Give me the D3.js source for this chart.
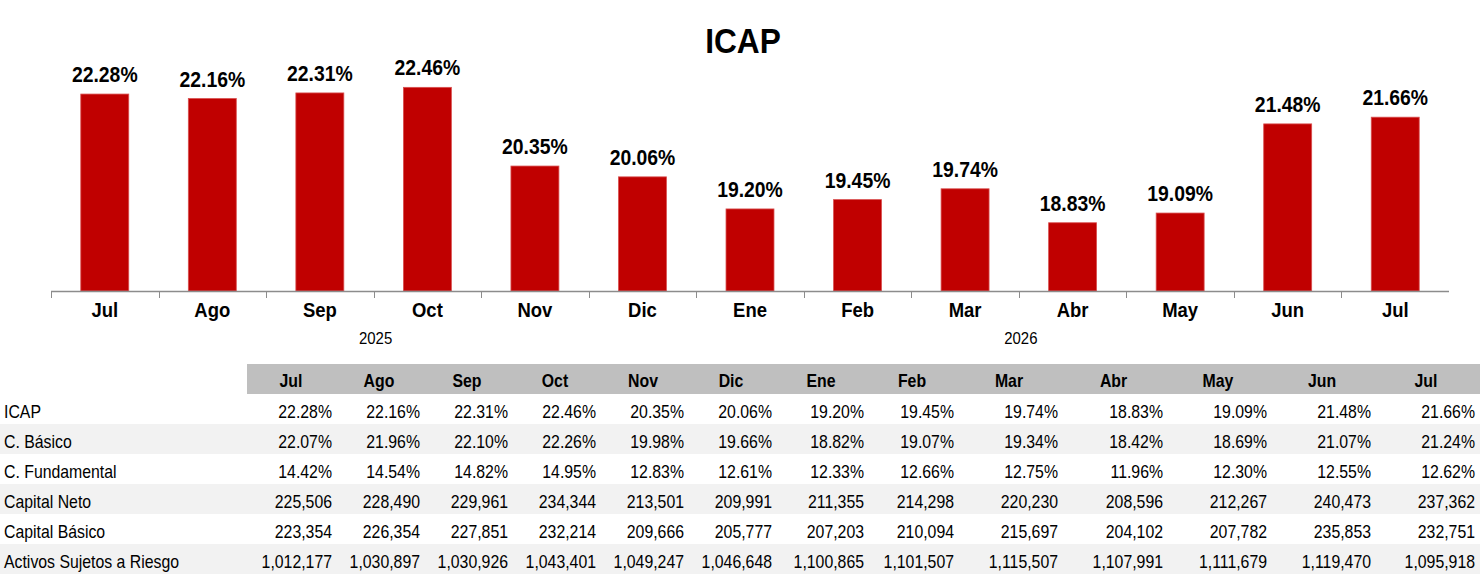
<!DOCTYPE html>
<html>
<head>
<meta charset="utf-8">
<script src="https://cdn.jsdelivr.net/npm/d3@7"></script>
<style>
  body { margin: 0; background: #fff; }
  text { font-family: "Liberation Sans", Arial, sans-serif; }
</style>
</head>
<body>
<div id="chart"></div>
<script>
// data
var months = ["Jul", "Ago", "Sep", "Oct", "Nov", "Dic", "Ene", "Feb", "Mar", "Abr", "May", "Jun", "Jul"];
var icap = [22.28, 22.16, 22.31, 22.46, 20.35, 20.06, 19.20, 19.45, 19.74, 18.83, 19.09, 21.48, 21.66];
var cBasico = [22.07, 21.96, 22.10, 22.26, 19.98, 19.66, 18.82, 19.07, 19.34, 18.42, 18.69, 21.07, 21.24];
var cFundamental = [14.42, 14.54, 14.82, 14.95, 12.83, 12.61, 12.33, 12.66, 12.75, 11.96, 12.30, 12.55, 12.62];
var capitalNeto = [225506, 228490, 229961, 234344, 213501, 209991, 211355, 214298, 220230, 208596, 212267, 240473, 237362];
var capitalBasico = [223354, 226354, 227851, 232214, 209666, 205777, 207203, 210094, 215697, 204102, 207782, 235853, 232751];
var activos = [1012177, 1030897, 1030926, 1043401, 1049247, 1046648, 1100865, 1101507, 1115507, 1107991, 1111679, 1119470, 1095918];
var years = ["2025", "2026"];
var yearBoundary = [3, 9]; // year label sits on the tick after this many months

var rowLabels = ["ICAP", "C. Básico", "C. Fundamental", "Capital Neto", "Capital Básico", "Activos Sujetos a Riesgo"];
var rowValues = [icap, cBasico, cFundamental, capitalNeto, capitalBasico, activos];
var rowIsPct = [true, true, true, false, false, false];

// layout
var width = 1480, height = 576;
var sx = 0.88; // text is a bit narrow in the picture
var colWidths = [88, 88, 88, 88, 88, 88, 92, 90, 104, 105, 104, 104, 104];
var tableLeft = 247, headerTop = 364, rowH = 30;

var svg = d3.select("#chart").append("svg")
    .attr("width", width)
    .attr("height", height);

function addText(g, x, y, str, size, weight, anchor) {
    return g.append("text")
        .attr("transform", "translate(" + x + "," + y + ") scale(" + sx + ",1)")
        .attr("text-anchor", anchor)
        .style("font-size", size + "px")
        .style("font-weight", weight)
        .attr("fill", "#000")
        .text(str);
}

// title
addText(svg, 743, 53, "ICAP", 36, "bold", "middle");

var x = d3.scaleBand()
    .domain(d3.range(months.length))
    .range([51, 1449])
    .paddingInner(0.554)
    .paddingOuter(0.277);

var y = d3.scaleLinear()
    .domain([17, 24])
    .range([291, 291 - 7 * 37.3]);

// bars
svg.selectAll(".bar")
    .data(icap)
    .enter()
    .append("rect")
    .attr("class", "bar")
    .attr("x", function(d, i) { return x(i); })
    .attr("y", function(d) { return y(d); })
    .attr("width", x.bandwidth())
    .attr("height", function(d) { return y(17) - y(d); })
    .attr("fill", "#c00000")
    .attr("stroke", "#d95050")
    .attr("stroke-width", 0.8);

svg.selectAll(".barlabel")
    .data(icap)
    .enter()
    .append("text")
    .attr("class", "barlabel")
    .attr("transform", function(d, i) {
        return "translate(" + (x(i) + x.bandwidth() / 2) + "," + (y(d) - 12) + ") scale(" + sx + ",1)";
    })
    .attr("text-anchor", "middle")
    .style("font-size", "22px")
    .style("font-weight", "bold")
    .text(function(d) { return d.toFixed(2) + "%"; });

// axis
var step = x.step();
var axisG = svg.append("g");
axisG.append("line")
    .attr("x1", 51).attr("x2", 1449)
    .attr("y1", 291.5).attr("y2", 291.5)
    .attr("stroke", "#8c8c8c")
    .attr("stroke-width", 1.5);

axisG.selectAll(".tick")
    .data(d3.range(months.length))
    .enter()
    .append("line")
    .attr("x1", function(i) { return Math.round(x(i) - x.paddingOuter() * step) + 0.5; })
    .attr("x2", function(i) { return Math.round(x(i) - x.paddingOuter() * step) + 0.5; })
    .attr("y1", 291).attr("y2", 298)
    .attr("stroke", "#8c8c8c")
    .attr("stroke-width", 1);

months.forEach(function(m, i) {
    addText(axisG, x(i) + x.bandwidth() / 2, 317, m, 21, "bold", "middle");
});

years.forEach(function(yr, k) {
    var bx = x(yearBoundary[k]) - x.paddingOuter() * step + 2;
    addText(axisG, bx, 344, yr, 17, "normal", "middle");
});

// table
var colX = [];
var acc = tableLeft;
colWidths.forEach(function(w) { colX.push(acc); acc += w; });

var table = svg.append("g");
table.append("rect")
    .attr("x", tableLeft).attr("y", headerTop)
    .attr("width", width - tableLeft).attr("height", rowH)
    .attr("fill", "#bfbfbf");

months.forEach(function(m, i) {
    addText(table, colX[i] + colWidths[i] / 2, headerTop + 23, m, 18, "bold", "middle");
});

rowLabels.forEach(function(lbl, r) {
    var top = headerTop + rowH * (r + 1);
    if (r % 2 === 1) {
        table.append("rect")
            .attr("x", 0).attr("y", top)
            .attr("width", width).attr("height", rowH)
            .attr("fill", "#f2f2f2");
    }
    addText(table, 4, top + 24, lbl, 18, "normal", "start");
    rowValues[r].forEach(function(v, i) {
        var s = rowIsPct[r] ? v.toFixed(2) + "%" : d3.format(",")(v);
        addText(table, colX[i] + colWidths[i] - 3, top + 24, s, 18, "normal", "end");
    });
});
</script>
</body>
</html>
